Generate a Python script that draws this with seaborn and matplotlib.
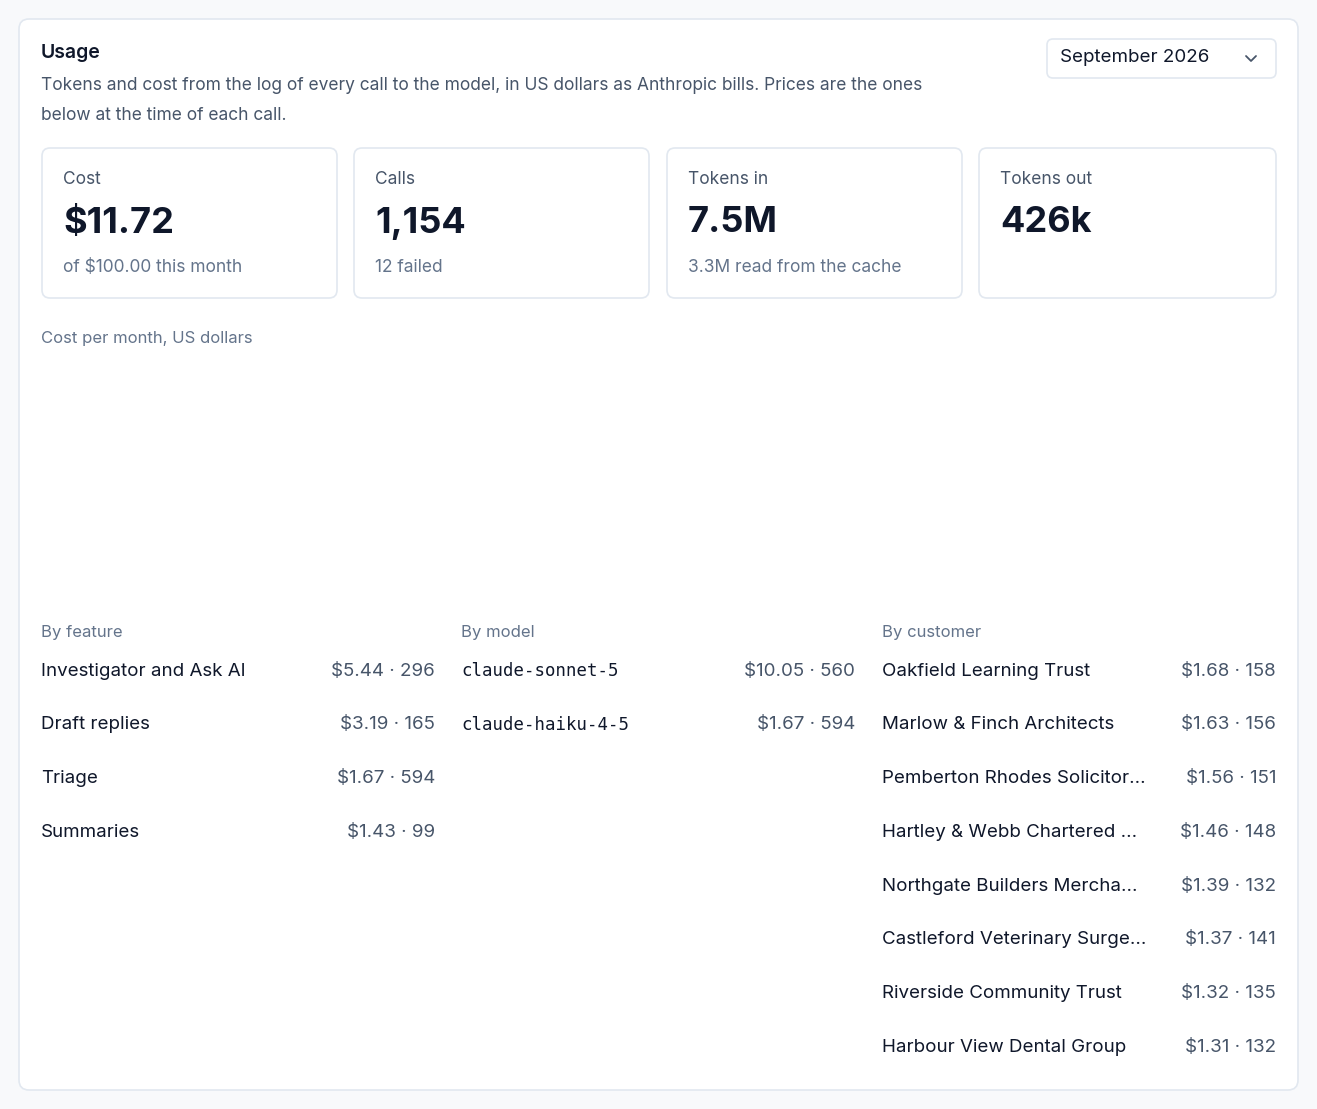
import matplotlib
matplotlib.use("Agg")
import matplotlib.pyplot as plt
import seaborn as sns
import pandas as pd
from matplotlib.patches import FancyBboxPatch
from matplotlib.lines import Line2D

months = pd.to_datetime(["2025-10-15", "2025-11-15", "2025-12-15", "2026-01-15",
                         "2026-02-15", "2026-03-15", "2026-04-15", "2026-05-15",
                         "2026-06-15", "2026-07-15", "2026-08-15", "2026-09-15"])
monthly_cost = [0, 0, 0, 0, 0, 0.9, 6.1, 7.2, 9.0, 11.2, 12.1, 11.72]

stat_labels = ["Cost", "Calls", "Tokens in", "Tokens out"]
stat_values = ["$11.72", "1,154", "7.5M", "426k"]
stat_notes = ["of $100.00 this month", "12 failed", "3.3M read from the cache", ""]

feature_names = ["Investigator and Ask AI", "Draft replies", "Triage", "Summaries"]
feature_cost = [5.44, 3.19, 1.67, 1.43]
feature_calls = [296, 165, 594, 99]

model_names = ["claude-sonnet-5", "claude-haiku-4-5"]
model_cost = [10.05, 1.67]
model_calls = [560, 594]

customer_names = ["Oakfield Learning Trust", "Marlow & Finch Architects",
                  "Pemberton Rhodes Solicitor...", "Hartley & Webb Chartered ...",
                  "Northgate Builders Mercha...", "Castleford Veterinary Surge...",
                  "Riverside Community Trust", "Harbour View Dental Group"]
customer_cost = [1.68, 1.63, 1.56, 1.46, 1.39, 1.37, 1.32, 1.31]
customer_calls = [158, 156, 151, 148, 132, 141, 135, 132]
total_cost = 11.72

sns.set_theme(style="white")
plt.rcParams["font.family"] = ["Inter", "DejaVu Sans"]

W, H = 1317, 1109
fig = plt.figure(figsize=(W / 100, H / 100), dpi=100)
fig.patch.set_facecolor("#f8f9fb")

def fx(x):
    return x / W

def fy(y):
    return 1 - y / H

def box(x0, y0, x1, y1, r=8, fc="white", ec="#e2e8f0", lw=1.2):
    fig.patches.append(FancyBboxPatch((fx(x0), fy(y1)), fx(x1 - x0), (y1 - y0) / H,
                                      boxstyle=f"round,pad=0,rounding_size={r / W}",
                                      transform=fig.transFigure, fc=fc, ec=ec, lw=lw,
                                      mutation_aspect=W / H))

def txt(x, y, s, size=13.5, color="#111827", **kw):
    fig.text(fx(x), fy(y), s, fontsize=size, color=color, va="center", **kw)

dark = "#0f172a"
gray = "#64748b"
blue = "#2563eb"

box(19, 19, 1298, 1090, r=10)
txt(41, 53, "Usage", size=14, color=dark, fontweight="semibold")
txt(41, 86, "Tokens and cost from the log of every call to the model, in US dollars as Anthropic bills. Prices are the ones",
    size=12.5, color="#475569")
txt(41, 116, "below at the time of each call.", size=12.5, color="#475569")

# month picker
box(1047, 39, 1276, 78, r=6)
txt(1060, 58, "September 2026", size=13.5, color=dark)
fig.lines.append(Line2D([fx(1246), fx(1251), fx(1256)], [fy(56), fy(61), fy(56)],
                        transform=fig.transFigure, color="#475569", lw=1.3))

# stat cards
card_x = [(42, 337), (354, 649), (667, 962), (979, 1276)]
for (x0, x1), lab, val, note in zip(card_x, stat_labels, stat_values, stat_notes):
    box(x0, 148, x1, 298, r=8)
    txt(x0 + 21, 180, lab, size=12.5, color="#475569")
    txt(x0 + 21, 223, val, size=26, color=dark, fontweight="bold")
    txt(x0 + 21, 268, note, size=12.5, color=gray)

# line chart
txt(41, 338, "Cost per month, US dollars", size=12, color=gray)
ax = fig.add_axes([fx(138), fy(553), fx(1253 - 138), (553 - 366) / H])
df = pd.DataFrame({"month": months, "cost": monthly_cost})
sns.lineplot(data=df, x="month", y="cost", ax=ax, color="#3b82f6", lw=2)
ax.set_xlim(months[0], months[-1])
ax.set_ylim(0, 20)
ax.set_yticks([0, 5, 10, 15, 20])
ax.set_xticks(pd.to_datetime(["2025-12-01", "2026-02-01", "2026-04-01", "2026-06-01", "2026-08-01"]))
ax.set_xticklabels(["1 Dec", "1 Feb", "1 Apr", "1 Jun", "1 Aug"])
ax.tick_params(axis="both", labelsize=11.5, labelcolor=gray, length=0, pad=12)
ax.tick_params(axis="x", pad=8)
ax.grid(axis="y", color="#eef1f5", lw=1)
ax.set_xlabel("")
ax.set_ylabel("")
for s in ax.spines.values():
    s.set_visible(False)
for ln in ax.lines:
    ln.set_clip_on(False)

# breakdown lists
def section(x0, title, names, costs, calls, mono=False):
    txt(x0, 633, title, size=12, color=gray)
    for i, (n, c, k) in enumerate(zip(names, costs, calls)):
        ty = 671 + i * 53.8
        fam = ["DejaVu Sans Mono"] if mono else ["Inter", "DejaVu Sans"]
        fig.text(fx(x0), fy(ty), n, fontsize=12.5 if mono else 13.5, color=dark, va="center", family=fam)
        txt(x0 + 394, ty, f"${c:.2f} · {k}", size=13.5, color="#475569", ha="right")
        bax = fig.add_axes([fx(x0), fy(ty + 27), fx(394), 8 / H])
        bax.barh([0], [total_cost], color="#e2e8f0", height=1)
        bax.barh([0], [c], color=blue, height=1)
        bax.set_xlim(0, total_cost)
        bax.set_ylim(-0.5, 0.5)
        bax.axis("off")

section(41, "By feature", feature_names, feature_cost, feature_calls)
section(461, "By model", model_names, model_cost, model_calls, mono=True)
section(882, "By customer", customer_names, customer_cost, customer_calls)

fig.savefig("out.png", dpi=100, facecolor=fig.get_facecolor())
